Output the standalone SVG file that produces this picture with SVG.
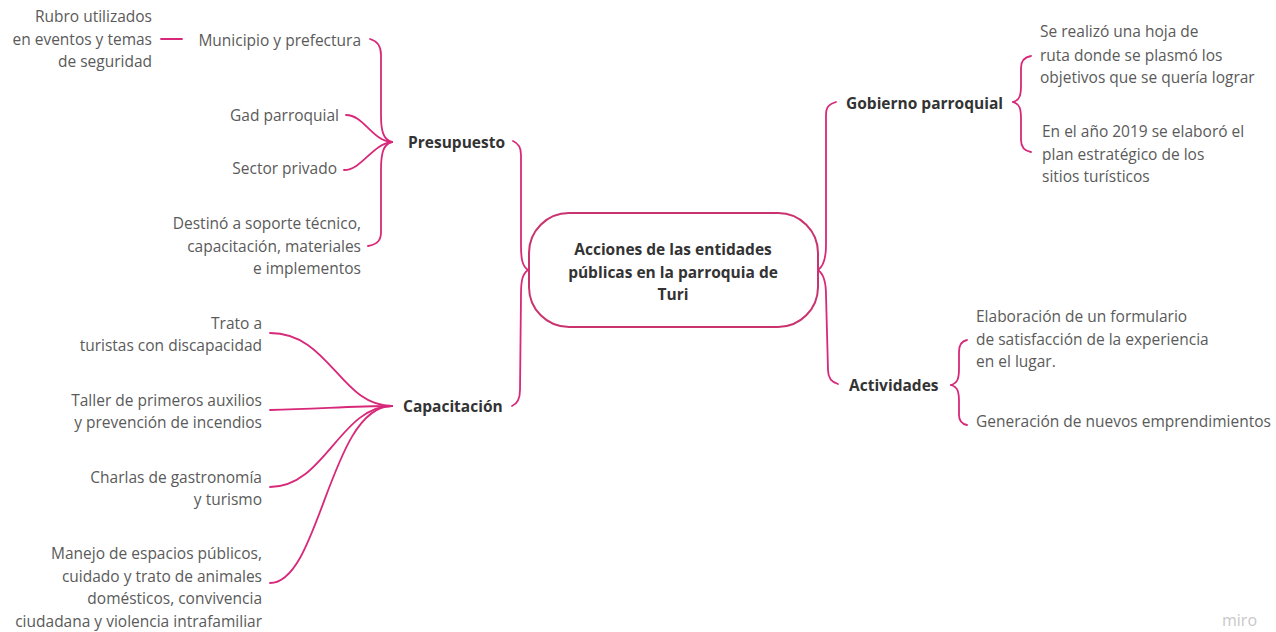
<svg xmlns="http://www.w3.org/2000/svg" width="1276" height="632" viewBox="0 0 1276 632">
<style>
.t{font-family:"Open Sans","Noto Sans","Liberation Sans",sans-serif;font-size:15.5px;fill:#5a5a5a}
.r{text-anchor:end}
.b{font-family:"Open Sans","Noto Sans","Liberation Sans",sans-serif;font-size:15.5px;font-weight:bold;fill:#333}
.c{text-anchor:middle}
.ln{fill:none;stroke:#d8287a;stroke-width:1.8;stroke-linecap:round}
.box{fill:#fff;stroke:#c9346f;stroke-width:2}
.miro{font-family:"Open Sans","Liberation Sans",sans-serif;font-size:16px;fill:#c8c8c8}
</style>
<rect width="1276" height="632" fill="#fff"/>
<g id="connectors">
<path class="ln" d="M161,39 L182,39"/>
<path class="ln" d="M392,142 C383,140 381,130 381,115 L381,55 C381,46 378,41 370,39"/>
<path class="ln" d="M392,142 C383,144 381,154 381,170 L381,232 C381,240 378,244 368,246"/>
<path class="ln" d="M346,115 C364,115 372,141 392,142"/>
<path class="ln" d="M344,170 C362,170 372,144 392,142"/>
<path class="ln" d="M528,270 C522,266 521,258 521,245 L521,155 C521,147 518,143 513,141"/>
<path class="ln" d="M528,270 C522,274 521,282 521,295 L520,390 C520,400 517,404 512,406"/>
<path class="ln" d="M270,333 C330,333 340,406 392,406"/>
<path class="ln" d="M270,410 C320,409 350,406 392,406"/>
<path class="ln" d="M270,487 C325,487 340,406 392,406"/>
<path class="ln" d="M270,583 C320,583 330,406 392,406"/>
<path class="ln" d="M818,270 C824,266 826,258 826,245 L826,115 C826,107 829,104 836,102"/>
<path class="ln" d="M818,270 C824,274 826,282 826,295 L828,370 C828,378 831,382 838,384"/>
<path class="ln" d="M1013,102 C1020,100 1021,95 1021,85 L1021,68 C1021,60 1025,57 1031,56"/>
<path class="ln" d="M1013,102 C1020,104 1021,109 1021,119 L1021,140 C1021,147 1025,151 1031,152"/>
<path class="ln" d="M951,385 C958,383 959,378 959,368 L959,352 C959,345 962,341 967,340"/>
<path class="ln" d="M951,385 C958,387 959,392 959,402 L959,415 C959,421 962,424 967,425"/>
</g>
<g id="central">
<rect class="box" x="529" y="213" width="289" height="114" rx="40"/>
<text class="b c" x="673" y="255">Acciones de las entidades</text>
<text class="b c" x="673" y="278">públicas en la parroquia de</text>
<text class="b c" x="673" y="300">Turi</text>
</g>
<g id="presupuesto"><text class="b" x="408" y="148">Presupuesto</text></g>
<g id="rubro"><text class="t r" x="152" y="22">Rubro utilizados</text><text class="t r" x="152" y="45">en eventos y temas</text><text class="t r" x="152" y="67">de seguridad</text></g>
<g id="municipio"><text class="t r" x="361" y="46">Municipio y prefectura</text></g>
<g id="gad"><text class="t r" x="339" y="121">Gad parroquial</text></g>
<g id="sector"><text class="t r" x="337" y="174">Sector privado</text></g>
<g id="destino"><text class="t r" x="361" y="229">Destinó a soporte técnico,</text><text class="t r" x="361" y="252">capacitación, materiales</text><text class="t r" x="361" y="274">e implementos</text></g>
<g id="capacitacion"><text class="b" x="403" y="412">Capacitación</text></g>
<g id="trato"><text class="t r" x="262" y="329">Trato a</text><text class="t r" x="262" y="351">turistas con discapacidad</text></g>
<g id="taller"><text class="t r" x="262" y="406">Taller de primeros auxilios</text><text class="t r" x="262" y="428">y prevención de incendios</text></g>
<g id="charlas"><text class="t r" x="262" y="483">Charlas de gastronomía</text><text class="t r" x="262" y="505">y turismo</text></g>
<g id="manejo"><text class="t r" x="262" y="559">Manejo de espacios públicos,</text><text class="t r" x="262" y="582">cuidado y trato de animales</text><text class="t r" x="262" y="604">domésticos, convivencia</text><text class="t r" x="262" y="627">ciudadana y violencia intrafamiliar</text></g>
<g id="gobierno"><text class="b" x="846" y="109">Gobierno parroquial</text></g>
<g id="hoja"><text class="t" x="1040" y="37">Se realizó una hoja de</text><text class="t" x="1040" y="61">ruta donde se plasmó los</text><text class="t" x="1040" y="83">objetivos que se quería lograr</text></g>
<g id="plan"><text class="t" x="1042" y="137">En el año 2019 se elaboró el</text><text class="t" x="1042" y="160">plan estratégico de los</text><text class="t" x="1042" y="182">sitios turísticos</text></g>
<g id="actividades"><text class="b" x="849" y="391">Actividades</text></g>
<g id="formulario"><text class="t" x="976" y="322">Elaboración de un formulario</text><text class="t" x="976" y="345">de satisfacción de la experiencia</text><text class="t" x="976" y="367">en el lugar.</text></g>
<g id="emprendimientos"><text class="t" x="976" y="427">Generación de nuevos emprendimientos</text></g>
<text class="miro" x="1222" y="626">miro</text>
</svg>
